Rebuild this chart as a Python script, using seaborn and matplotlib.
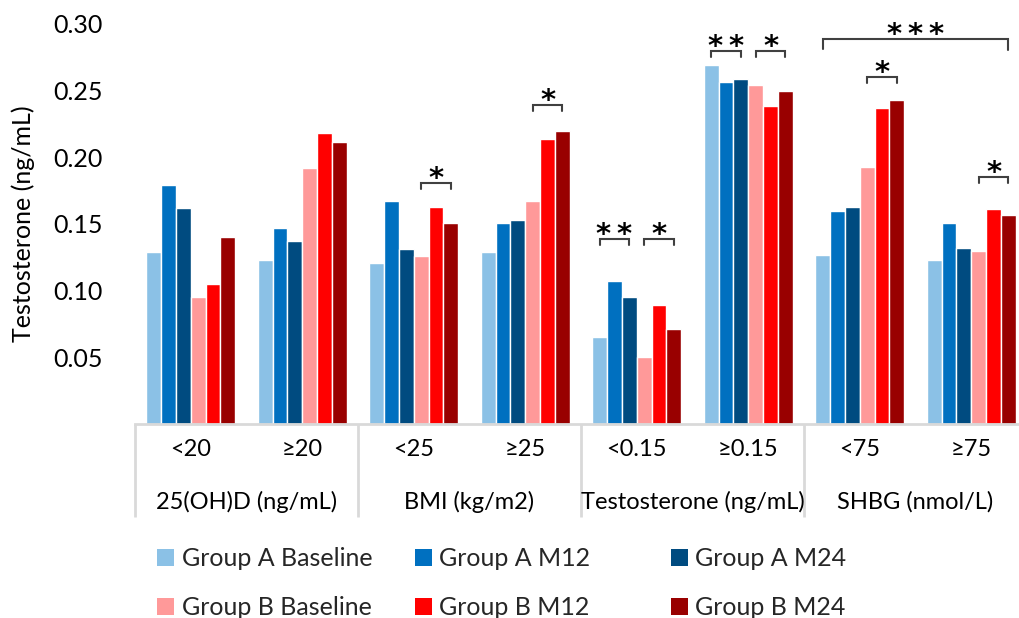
import numpy as np
import pandas as pd
import matplotlib
matplotlib.use("Agg")
import matplotlib.pyplot as plt
from matplotlib.patches import Patch
import seaborn as sns

# ---------------- data ----------------
sub_labels = ["<20", "≥20", "<25", "≥25", "<0.15", "≥0.15", "<75", "≥75"]
group_labels = ["25(OH)D (ng/mL)", "BMI (kg/m2)", "Testosterone (ng/mL)", "SHBG (nmol/L)"]
series = ["Group A Baseline", "Group A M12", "Group A M24",
          "Group B Baseline", "Group B M12", "Group B M24"]

a_base = [0.129, 0.123, 0.121, 0.129, 0.0655, 0.269, 0.127, 0.123]
a_m12 = [0.179, 0.147, 0.167, 0.151, 0.107, 0.2565, 0.160, 0.151]
a_m24 = [0.162, 0.137, 0.131, 0.153, 0.095, 0.259, 0.163, 0.132]
b_base = [0.095, 0.192, 0.126, 0.167, 0.050, 0.2545, 0.193, 0.130]
b_m12 = [0.105, 0.218, 0.163, 0.214, 0.0895, 0.2385, 0.237, 0.161]
b_m24 = [0.140, 0.2115, 0.151, 0.2195, 0.0715, 0.250, 0.243, 0.157]

colors = ["#8BC1E6", "#0070C0", "#004B80", "#FF9999", "#FF0000", "#990000"]

# significance brackets: (category index, from series, to series, y, label)
brackets = [
    (2, 3, 5, 0.181, "*"),
    (3, 3, 5, 0.2395, "*"),
    (4, 0, 2, 0.139, "**"),
    (4, 3, 5, 0.139, "*"),
    (5, 0, 2, 0.2800, "**"),
    (5, 3, 5, 0.2795, "*"),
    (6, 3, 5, 0.260, "*"),
    (7, 3, 5, 0.185, "*"),
]
# spanning bracket: (cat_from, series_from, cat_to, series_to, y, label)
big_bracket = (6, 0, 7, 5, 0.289, "***")

# ---------------- build frame ----------------
vals = [a_base, a_m12, a_m24, b_base, b_m12, b_m24]
rows = []
for s, v in zip(series, vals):
    for c, y in zip(sub_labels, v):
        rows.append({"sub": c, "series": s, "value": y})
df = pd.DataFrame(rows)

sns.set_theme(style="white")
plt.rcParams["font.family"] = ["Lato", "DejaVu Sans"]
FS = 18

fig = plt.figure(figsize=(10.2, 6.18), dpi=100)
ax = fig.add_axes([135 / 1020, 1 - 424 / 618, 892 / 1020, 400 / 618])

sns.barplot(data=df, x="sub", y="value", hue="series", order=sub_labels,
            hue_order=series, palette=colors, saturation=1, width=0.8,
            edgecolor="white", linewidth=1.0, legend=False, ax=ax)

ax.set_xlim(-0.5, 7.5)
ax.set_ylim(0, 0.30)
yt = [0.05, 0.10, 0.15, 0.20, 0.25, 0.30]
ax.set_yticks(yt)
ax.set_yticklabels([f"{t:.2f}" for t in yt], fontsize=FS, color="#000000")
ax.tick_params(axis="y", length=0, pad=23)
ax.tick_params(axis="x", length=0, pad=11)
ax.set_xticks(range(len(sub_labels)))
ax.set_xticklabels(sub_labels, fontsize=FS - 1, color="#000000")
ax.set_xlabel("")
ax.set_ylabel("Testosterone (ng/mL)", fontsize=FS, color="#000000")
ax.yaxis.set_label_coords(-0.1256, 0.5)
ax.yaxis.label.set_va("center")

for side in ["left", "right", "top"]:
    ax.spines[side].set_visible(False)
ax.spines["bottom"].set_color("#D9D9D9")
ax.spines["bottom"].set_linewidth(2)
ax.grid(False)

# table separators and group labels
xt = ax.get_xaxis_transform()
for xs in [-0.5, 1.5, 3.5, 5.5, 7.5]:
    ax.plot([xs, xs], [0, -0.233], transform=xt, color="#D9D9D9", lw=2,
            clip_on=False, solid_capstyle="butt")
for i, g in enumerate(group_labels):
    ax.text(2 * i + 0.5, -0.195, g, transform=xt, ha="center", va="center",
            fontsize=FS - 1, color="#000000")

# significance brackets
def bar_center(cat, ser):
    b = ax.containers[ser][cat]
    return b.get_x() + b.get_width() / 2

line_kw = dict(color="#404040", lw=1.5, clip_on=False, solid_joinstyle="miter")
star_kw = dict(textcoords="offset points", ha="center", va="baseline", fontsize=21,
               family="DejaVu Sans", fontweight="bold", color="#000000",
               annotation_clip=False)
leg = 0.0045
for cat, s0, s1, y, lab in brackets:
    x0, x1 = bar_center(cat, s0), bar_center(cat, s1)
    ax.plot([x0, x0, x1, x1], [y - leg, y, y, y - leg], **line_kw)
    ax.annotate("\u2009".join(lab), xy=((x0 + x1) / 2, y), xytext=(0, -3), **star_kw)

c0, s0, c1, s1, y, lab = big_bracket
x0, x1 = bar_center(c0, s0), bar_center(c1, s1)
ax.plot([x0, x0, x1, x1], [y - 0.0075, y, y, y - 0.0085], **line_kw)
ax.annotate("\u2009".join(lab), xy=((x0 + x1) / 2, y), xytext=(0, -3), **star_kw)

# legend: three columns of two rows
for col, xpos in enumerate([157, 415, 671]):
    hs = [Patch(facecolor=colors[col], edgecolor="none"),
          Patch(facecolor=colors[col + 3], edgecolor="none")]
    labs = [series[col], series[col + 3]]
    fig.legend(hs, labs, loc="center left", bbox_to_anchor=(xpos / 1020, 1 - 583 / 618),
               frameon=False, fontsize=FS, handlelength=0.68, handleheight=0.68,
               handletextpad=0.3, labelspacing=1.05, borderpad=0, borderaxespad=0)

fig.savefig("out.png", dpi=100)
